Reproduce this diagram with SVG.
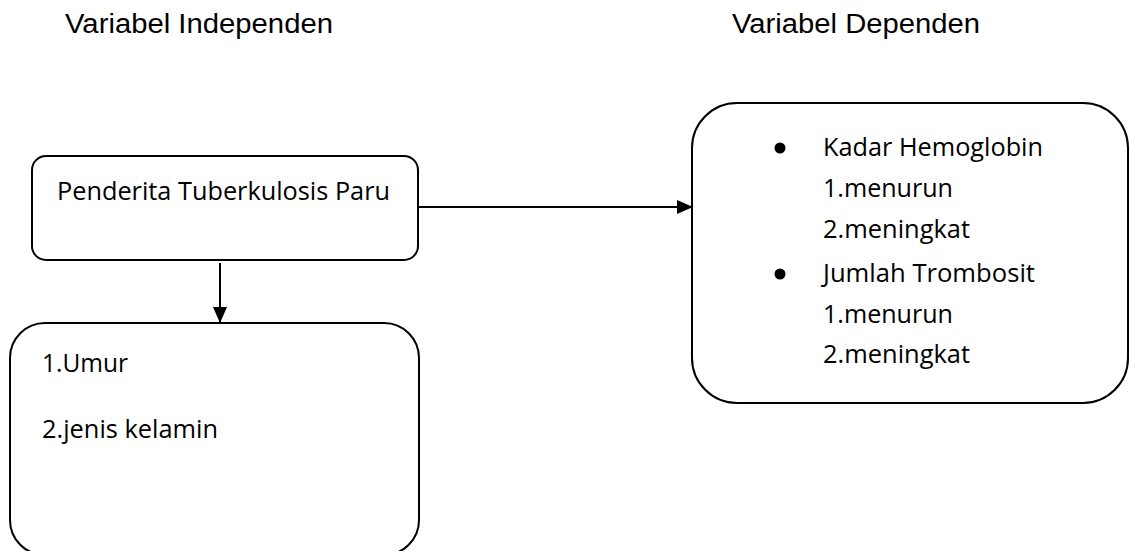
<svg xmlns="http://www.w3.org/2000/svg" width="1130" height="551" viewBox="0 0 1130 551">
<style>
.box{fill:#fff;stroke:#000;stroke-width:2}
.title{font-family:"Liberation Sans",Arial,sans-serif;font-size:27px;fill:#000}
.lbl{font-family:"Open Sans","Noto Sans",sans-serif;font-size:25px;fill:#000}
.conn{stroke:#000;stroke-width:2;fill:none}
</style>
<defs>
<marker id="ah" markerWidth="16" markerHeight="14" refX="15" refY="7" orient="auto" markerUnits="userSpaceOnUse">
<path d="M0,0 L16,7 L0,14 Z" fill="#000"/>
</marker>
</defs>
<rect width="1130" height="551" fill="#fff"/>
<text class="title" x="65" y="33" textLength="268" lengthAdjust="spacingAndGlyphs">Variabel Independen</text>
<text class="title" x="732" y="33" textLength="248" lengthAdjust="spacingAndGlyphs">Variabel Dependen</text>
<g id="connectors">
<line class="conn" x1="418" y1="207" x2="692" y2="207" marker-end="url(#ah)"/>
<line class="conn" x1="220" y1="263" x2="220" y2="322" marker-end="url(#ah)"/>
</g>
<g id="node-penderita">
<rect class="box" x="32" y="156" width="386" height="104" rx="14"/>
<text class="lbl" x="57" y="200" textLength="333" lengthAdjust="spacingAndGlyphs">Penderita Tuberkulosis Paru</text>
</g>
<g id="node-karakteristik">
<rect class="box" x="10" y="323" width="409" height="232" rx="35"/>
<text class="lbl" x="42" y="372" textLength="86" lengthAdjust="spacingAndGlyphs">1.Umur</text>
<text class="lbl" x="42" y="438" textLength="176" lengthAdjust="spacingAndGlyphs">2.jenis kelamin</text>
</g>
<g id="node-dependen">
<rect class="box" x="692" y="103" width="436" height="300" rx="45"/>
<circle cx="780" cy="148" r="5.5"/>
<text class="lbl" x="823" y="156" textLength="220" lengthAdjust="spacingAndGlyphs">Kadar Hemoglobin</text>
<text class="lbl" x="823" y="197" textLength="130" lengthAdjust="spacingAndGlyphs">1.menurun</text>
<text class="lbl" x="823" y="238" textLength="147" lengthAdjust="spacingAndGlyphs">2.meningkat</text>
<circle cx="780" cy="274" r="5.5"/>
<text class="lbl" x="823" y="282" textLength="212" lengthAdjust="spacingAndGlyphs">Jumlah Trombosit</text>
<text class="lbl" x="823" y="323" textLength="130" lengthAdjust="spacingAndGlyphs">1.menurun</text>
<text class="lbl" x="823" y="363" textLength="147" lengthAdjust="spacingAndGlyphs">2.meningkat</text>
</g>
</svg>
